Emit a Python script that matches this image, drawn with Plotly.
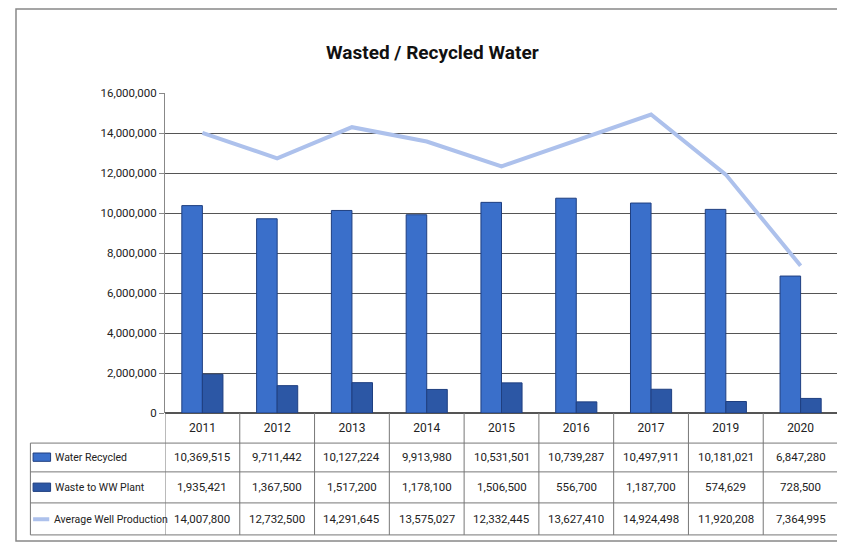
import plotly.graph_objects as go

years = ["2011", "2012", "2013", "2014", "2015", "2016", "2017", "2019", "2020"]
water_recycled = [10369515, 9711442, 10127224, 9913980, 10531501, 10739287, 10497911, 10181021, 6847280]
waste_to_ww = [1935421, 1367500, 1517200, 1178100, 1506500, 556700, 1187700, 574629, 728500]
avg_well = [14007800, 12732500, 14291645, 13575027, 12332445, 13627410, 14924498, 11920208, 7364995]
y_ticks = list(range(0, 16000001, 2000000))

series_names = ["Water Recycled", "Waste to WW Plant", "Average Well Production"]
c_recycled = "#3a6fca"
c_waste = "#2c57a5"
c_well = "#adc1ec"
font_fam = "Roboto, Liberation Sans, sans-serif"

fig = go.Figure()
fig.add_trace(go.Bar(x=years, y=water_recycled, name=series_names[0],
                     marker=dict(color=c_recycled, line=dict(color="#1f3f80", width=1))))
fig.add_trace(go.Bar(x=years, y=waste_to_ww, name=series_names[1],
                     marker=dict(color=c_waste, line=dict(color="#1f3f80", width=1))))
fig.add_trace(go.Scatter(x=years, y=avg_well, name=series_names[2], mode="lines",
                         line=dict(color=c_well, width=4)))

# data table under the plot: rows in paper coords, columns by category index
row_y = [-0.138, -0.232, -0.332]
rows = [water_recycled, waste_to_ww, avg_well]
ann = []
for vals, ry in zip(rows, row_y):
    for i, v in enumerate(vals):
        ann.append(dict(x=i, y=ry, xref="x", yref="paper", text=f"{v:,}", showarrow=False,
                        yanchor="middle", font=dict(size=11.5, color="#222")))
label_x = [-0.166, -0.166, -0.168]
for name, ry, lx in zip(series_names, row_y, label_x):
    ann.append(dict(x=lx, y=ry, xref="paper", yref="paper", text=name, showarrow=False,
                    xanchor="left", yanchor="middle", font=dict(size=10.5, color="#222")))
ann.append(dict(x=0.397, y=1.128, xref="paper", yref="paper", text="<b>Wasted / Recycled Water</b>",
                showarrow=False, yanchor="middle", font=dict(size=19, color="#111")))

shapes = []
grid_col = "#777"
# horizontal table lines
for py in [-0.094, -0.184, -0.281, -0.381]:
    shapes.append(dict(type="line", xref="paper", yref="paper", x0=-0.2, x1=1.0, y0=py, y1=py,
                       line=dict(color=grid_col, width=1)))
# vertical table lines
for i in range(len(years) + 1):
    shapes.append(dict(type="line", xref="x", yref="paper", x0=i - 0.5, x1=i - 0.5, y0=0, y1=-0.381,
                       line=dict(color=grid_col, width=1)))
shapes.append(dict(type="line", xref="paper", yref="paper", x0=-0.2, x1=-0.2, y0=-0.094, y1=-0.381,
                   line=dict(color=grid_col, width=1)))
# legend keys
for ry, col in zip(row_y[:2], [c_recycled, c_waste]):
    shapes.append(dict(type="rect", xref="paper", yref="paper", x0=-0.196, x1=-0.17, y0=ry - 0.013, y1=ry + 0.013,
                       fillcolor=col, line=dict(color="#1f3f80", width=1)))
shapes.append(dict(type="line", xref="paper", yref="paper", x0=-0.196, x1=-0.172, y0=row_y[2], y1=row_y[2],
                   line=dict(color=c_well, width=4)))
# outer frame
shapes.append(dict(type="rect", xref="paper", yref="paper", x0=-0.2214, x1=1.0074, y0=-0.4, y1=1.2625,
                   line=dict(color="#888", width=1.5)))

# page body has an 8px margin, so the figure is drawn 8px smaller and shifted
fig.update_layout(
    width=837, height=536,
    margin=dict(l=157, r=7, t=85, b=131),
    paper_bgcolor="white", plot_bgcolor="white",
    barmode="group", bargap=0.45, bargroupgap=0,
    showlegend=False,
    font=dict(family=font_fam, size=12, color="#222"),
    annotations=ann, shapes=shapes,
)
fig.update_xaxes(type="category", range=[-0.5, len(years) - 0.5], showgrid=False, showline=False, ticks="",
                 tickfont=dict(size=12), ticklabelstandoff=6)
fig.update_yaxes(range=[0, 16000000], tickvals=y_ticks, tickformat=",d",
                 showgrid=True, gridcolor="#555", gridwidth=1,
                 showline=True, linecolor="#888", ticks="outside", ticklen=5, tickcolor="#888",
                 zeroline=True, zerolinecolor="#555", tickfont=dict(size=11.5))

fig.write_html("out.html")
